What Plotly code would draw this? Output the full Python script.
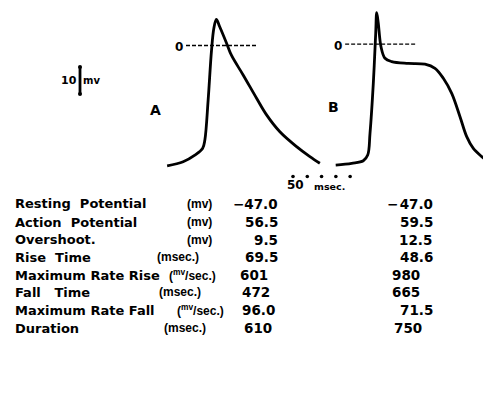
import plotly.graph_objects as go

# ---------------- data ----------------
# Trace A: time (msec, from start of trace) and membrane potential (mV)
a_t = [0, 56, 97, 124, 132, 143.5, 155.4, 163.5, 172.2, 184, 208, 225.4, 266, 313, 348, 394.5, 453, 499.5, 534.5]
a_v = [-47.0, -45.4, -42.8, -40.2, -36.9, -21.3, -1.8, 6.7, 10.2, 7.3, 0.9, -3.9, -11.5, -20.6, -27.1, -33.7, -39.5, -43.4, -46.0]
# Trace B
b_t = [0, 56, 96.6, 112, 120, 131.6, 140, 143.5, 149, 158.5, 172.5, 196, 254, 312.4, 347.5, 376.6, 406, 435, 458.5, 481.6, 511, 526]
b_v = [-46.7, -46.0, -45.0, -42.8, -34.3, -14.8, 4.8, 12.8, 8.7, -0.5, -5.0, -6.3, -7.0, -7.3, -8.9, -12.8, -18.7, -27.8, -35.6, -40.2, -43.4, -44.7]

# time-scale marks (msec) and voltage scale (mV)
time_marks = [0, 50, 100, 150, 200]
volt_bar = [0, -10]

# table
row_labels = ["Resting\u00a0\u00a0Potential", "Action\u00a0\u00a0Potential", "Overshoot.",
              "Rise\u00a0\u00a0Time", "Maximum\u00a0Rate\u00a0Rise", "Fall\u00a0\u00a0\u00a0Time",
              "Maximum\u00a0Rate\u00a0Fall", "Duration"]
row_units = ["(mv)", "(mv)", "(mv)", "(msec.)", "(<sup>mv</sup>/sec.)", "(msec.)", "(<sup>mv</sup>/sec.)", "(msec.)"]
values_a = ["\u221247.0", "56.5", "9.5", "69.5", "601", "472", "96.0", "610"]
values_b = ["\u2212\u200a47.0", "59.5", "12.5", "48.6", "980", "665", "71.5", "750"]

# ---------------- layout helpers ----------------
W, H = 483, 401
MS_PER_PX = 3.5
PX_PER_MV = 2.56
ZERO_PX = 45.5
FONT = "DejaVu Sans"
UNIT_FONT = "Liberation Sans"

def px(x):
    return x / W

def py(y):
    return 1 - y / H

fig = go.Figure()

line_style = dict(color="#000", width=2.8, shape="spline", smoothing=1.0)
start_a, start_b = 585.0, 1175.0
fig.add_trace(go.Scatter(x=[start_a + t for t in a_t], y=a_v, mode="lines", line=line_style, hoverinfo="skip"))
fig.add_trace(go.Scatter(x=[start_b + t for t in b_t], y=b_v, mode="lines", line=line_style, hoverinfo="skip"))

# zero reference lines
zl = dict(color="#000", width=1.3, dash="4px,2px")
fig.add_trace(go.Scatter(x=[651, 898], y=[0, 0], mode="lines", line=zl, hoverinfo="skip"))
fig.add_trace(go.Scatter(x=[1208, 1455], y=[0.5, 0.5], mode="lines", line=zl, hoverinfo="skip"))

# voltage scale bar
fig.add_trace(go.Scatter(x=[280, 280], y=[-8.4 + v * 1.05 for v in volt_bar], mode="lines+markers",
                         line=dict(color="#000", width=2.8), marker=dict(size=4, color="#000"), hoverinfo="skip"))
# time marks
fig.add_trace(go.Scatter(x=[1025.5 + t for t in time_marks], y=[-51.2] * len(time_marks), mode="markers",
                         marker=dict(size=3.6, color="#000"), hoverinfo="skip"))

ann = []
def text(x, y, s, size, xanchor="center", family=FONT):
    ann.append(dict(x=px(x), y=py(y), xref="paper", yref="paper", text=s, showarrow=False,
                    xanchor=xanchor, yanchor="middle",
                    font=dict(family=family, size=size, color="#000", weight=700)))

text(178.5, 47, "0", 12)
text(337.5, 46, "0", 12)
text(155, 110, "A", 14)
text(333, 107, "B", 14)
text(69, 81, "10", 11)
text(91, 81, "mv", 10)
text(295, 185, "50", 12)
text(329, 186, "msec.", 9.5)

row_y = [204, 222, 239.5, 257, 275, 292, 310, 328]
unit_x = [185, 185, 185, 155, 167, 157, 175, 162]
a_pos = [(280, "right"), (280, "right"), (280, "right"), (280, "right"), (238, "left"), (240, "left"), (240, "left"), (242, "left")]
b_pos = [(435, "right"), (435, "right"), (434, "right"), (435, "right"), (390, "left"), (390, "left"), (435, "right"), (392, "left")]
for i in range(len(row_labels)):
    y = row_y[i]
    text(13, y, row_labels[i], 13, "left")
    text(unit_x[i], y, row_units[i], 12, "left", UNIT_FONT)
    text(a_pos[i][0], y, values_a[i], 13.5, a_pos[i][1])
    text(b_pos[i][0], y, values_b[i], 13.5, b_pos[i][1])

fig.update_layout(
    width=W, height=H, margin=dict(l=0, r=0, t=0, b=0),
    paper_bgcolor="white", plot_bgcolor="white", showlegend=False,
    annotations=ann,
    xaxis=dict(range=[0, W * MS_PER_PX], visible=False, fixedrange=True),
    yaxis=dict(range=[(ZERO_PX - H) / PX_PER_MV, ZERO_PX / PX_PER_MV], visible=False, fixedrange=True),
)
fig.write_html("out.html", config={"displayModeBar": False})
